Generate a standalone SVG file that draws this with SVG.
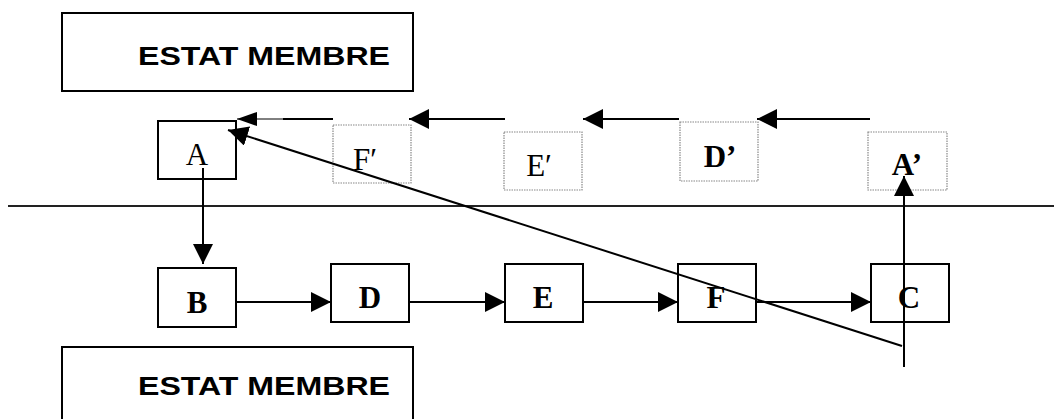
<svg xmlns="http://www.w3.org/2000/svg" width="1054" height="419" viewBox="0 0 1054 419">
<defs>
<marker id="ah" markerUnits="userSpaceOnUse" markerWidth="20" markerHeight="20" refX="20" refY="10" orient="auto"><path d="M0,0 L20,10 L0,20 z" fill="#000"/></marker>
<marker id="ahs" markerUnits="userSpaceOnUse" markerWidth="20" markerHeight="14" refX="20" refY="7" orient="auto"><path d="M0,0 L20,7 L0,14 z" fill="#000"/></marker>
<style>
.box{fill:#fff;stroke:#000;stroke-width:2}
.dot{fill:#fff;stroke:#888;stroke-width:1.2;stroke-dasharray:1.5 1}
.big{font-family:"Liberation Sans",Arial,sans-serif;font-weight:bold;font-size:25px;fill:#000}
.lbl{font-family:"Liberation Serif","Times New Roman",serif;font-size:31px;fill:#000;text-anchor:middle}
.b{font-weight:bold}
.ln{stroke:#000;stroke-width:2;fill:none}
</style>
</defs>
<g id="estat-top"><rect class="box" x="62" y="13" width="351" height="78"/><text class="big" x="138" y="65" textLength="252" lengthAdjust="spacingAndGlyphs">ESTAT MEMBRE</text></g>
<g id="estat-bottom"><rect class="box" x="62" y="347" width="351" height="80"/><text class="big" x="138" y="395" textLength="252" lengthAdjust="spacingAndGlyphs">ESTAT MEMBRE</text></g>
<g id="separator"><line x1="8" y1="206" x2="1054" y2="206" stroke="#222" stroke-width="2"/></g>
<g id="node-A"><rect class="box" x="158" y="121" width="78" height="58"/><text class="lbl" x="197" y="165">A</text></g>
<g id="node-Fp"><rect class="dot" x="333" y="125" width="78" height="58"/><text class="lbl" x="365" y="170">F′</text></g>
<g id="node-Ep"><rect class="dot" x="504" y="132" width="78" height="58"/><text class="lbl" x="539" y="176">E′</text></g>
<g id="node-Dp"><rect class="dot" x="680" y="122" width="78" height="59"/><text class="lbl b" x="720" y="167">D’</text></g>
<g id="node-Ap"><rect class="dot" x="868" y="132" width="79" height="58"/><text class="lbl b" x="907" y="175">A’</text></g>
<g id="node-B"><rect class="box" x="158" y="268" width="78" height="59"/><text class="lbl b" x="197" y="313">B</text></g>
<g id="node-D"><rect class="box" x="331" y="264" width="78" height="58"/><text class="lbl b" x="370" y="308">D</text></g>
<g id="node-E"><rect class="box" x="505" y="264" width="78" height="58"/><text class="lbl b" x="543" y="308">E</text></g>
<g id="node-F"><rect class="box" x="678" y="264" width="78" height="58"/><text class="lbl b" x="716" y="308">F</text></g>
<g id="node-C"><rect class="box" x="871" y="264" width="78" height="58"/><text class="lbl b" x="909" y="308">C</text></g>
<g id="connectors">
<line class="ln" x1="870" y1="119" x2="757" y2="119" marker-end="url(#ah)"/>
<line class="ln" x1="679" y1="119" x2="583" y2="119" marker-end="url(#ah)"/>
<line class="ln" x1="505" y1="119" x2="409" y2="119" marker-end="url(#ah)"/>
<line class="ln" x1="333" y1="119" x2="283" y2="119"/>
<line x1="283" y1="119" x2="237" y2="119" stroke="#000" stroke-width="1" marker-end="url(#ahs)"/>
<line class="ln" x1="203" y1="168" x2="203" y2="264" marker-end="url(#ah)"/>
<line class="ln" x1="236" y1="302" x2="331" y2="302" marker-end="url(#ah)"/>
<line class="ln" x1="409" y1="302" x2="505" y2="302" marker-end="url(#ah)"/>
<line class="ln" x1="583" y1="302" x2="678" y2="302" marker-end="url(#ah)"/>
<line class="ln" x1="756" y1="302" x2="871" y2="302" marker-end="url(#ah)"/>
<line class="ln" x1="904" y1="367" x2="904" y2="176" marker-end="url(#ah)"/>
<line class="ln" x1="902" y1="346" x2="228" y2="130" marker-end="url(#ah)"/>
</g>
</svg>
